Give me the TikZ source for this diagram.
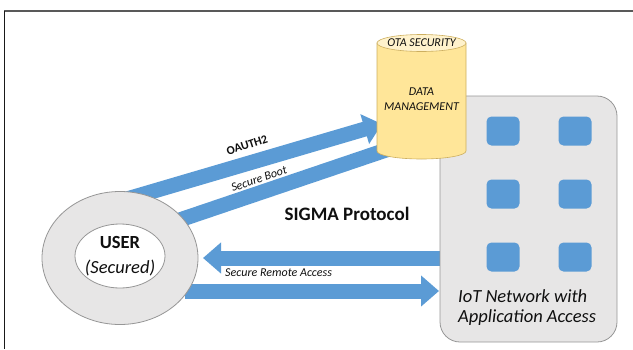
\documentclass[tikz,border=0pt]{standalone}
\usepackage{fontspec}
\setmainfont{Carlito}
\usetikzlibrary{arrows.meta,shapes.geometric}

\definecolor{bandblue}{RGB}{91,155,213}
\definecolor{softgrey}{RGB}{231,230,230}
\definecolor{edgegrey}{RGB}{150,150,150}
\definecolor{cylbody}{RGB}{255,230,153}
\definecolor{cyltop}{RGB}{255,242,204}
\definecolor{cyledge}{RGB}{205,175,95}
\definecolor{inktext}{RGB}{15,15,15}

\tikzset{
  band/.style={draw=bandblue, line width=15pt},
  bandarrow/.style={band, -{Triangle[width=30pt,length=18pt]}},
  greyshape/.style={fill=softgrey, draw=edgegrey, line width=0.8pt},
  device/.style={fill=bandblue, draw=none, rounded corners=5pt,
                 minimum width=33pt, minimum height=29pt, inner sep=0pt},
  lbl/.style={text=inktext, inner sep=0pt},
}

\begin{document}
\begin{tikzpicture}[x=1pt, y=-1pt]
\useasboundingbox (0,0) rectangle (633,349);

% frame
\draw[line width=1.4pt, black!65] (4,11) -- (633,11);
\draw[line width=1.6pt, black!90] (4.5,11) -- (4.5,349);

% band end points
\coordinate (oauthS) at (120,201);
\coordinate (oauthE) at (382,124);
\coordinate (bootS)  at (150,230);
\coordinate (bootE)  at (395,147);
\coordinate (leftS)  at (442,258);
\coordinate (leftE)  at (203,258);
\coordinate (rightS) at (185,291);
\coordinate (rightE) at (439,291);

% bands and arrows (behind the shapes)
\draw[bandarrow] (oauthS) -- (oauthE);
\draw[band] (bootS) -- (bootE);
\draw[bandarrow] (leftS) -- (leftE);
\draw[bandarrow] (rightS) -- (rightE);

% user
\node[ellipse, greyshape, minimum width=156pt, minimum height=133pt] (user) at (120,258) {};
\node[ellipse, fill=white, draw=edgegrey, line width=0.8pt,
      minimum width=90pt, minimum height=64pt] (userin) at (120,256) {};
\node[lbl, font=\fontsize{18.5}{20}\selectfont\bfseries] (usert) at (120,242) {USER};
\node[lbl, font=\fontsize{18.5}{20}\selectfont\itshape] (usersec) at (120,268) {(Secured)};

% IoT network
\node[rectangle, greyshape, rounded corners=20pt,
      minimum width=177pt, minimum height=246pt] (iot) at (528.5,219) {};
\foreach \r/\y in {1/131, 2/194, 3/257} {
  \node[device] (dA\r) at (503,\y) {};
  \node[device] (dB\r) at (575,\y) {};
}
\node[lbl, anchor=west, font=\fontsize{18.5}{20}\selectfont\itshape] (iot1) at (458,296) {IoT Network with};
\node[lbl, anchor=west, font=\fontsize{18.5}{20}\selectfont\itshape] (iot2) at (458,318) {Application Access};

% data management cylinder
\path[fill=cylbody, draw=cyledge, line width=0.6pt]
  (377,43) -- (377,151)
  arc[start angle=180, end angle=360, x radius=44.5pt, y radius=8pt]
  -- (466,43) -- cycle;
\node[ellipse, fill=cyltop, draw=cyledge, line width=0.6pt, inner sep=0pt,
      minimum width=89pt, minimum height=17pt] (cyltopn) at (421.5,43) {};
\node[lbl, font=\fontsize{12}{13}\selectfont\itshape] (ota) at (421.5,43) {OTA SECURITY};
\node[lbl, font=\fontsize{12}{13}\selectfont\itshape] (dm1) at (421.5,92) {DATA};
\node[lbl, font=\fontsize{12}{13}\selectfont\itshape] (dm2) at (421.5,107) {MANAGEMENT};

% labels
\node[lbl, rotate=18, font=\fontsize{12}{13}\selectfont\bfseries] (oauth) at (247,145) {OAUTH2};
\node[lbl, rotate=18.5, font=\fontsize{12}{13}\selectfont\itshape] (boot) at (259,179) {Secure Boot};
\node[lbl, font=\fontsize{19}{21}\selectfont\bfseries] (sigma) at (347,214) {SIGMA Protocol};
\node[lbl, anchor=west, font=\fontsize{12}{13}\selectfont\itshape] (remote) at (225,273) {Secure Remote Access};
\end{tikzpicture}
\end{document}
